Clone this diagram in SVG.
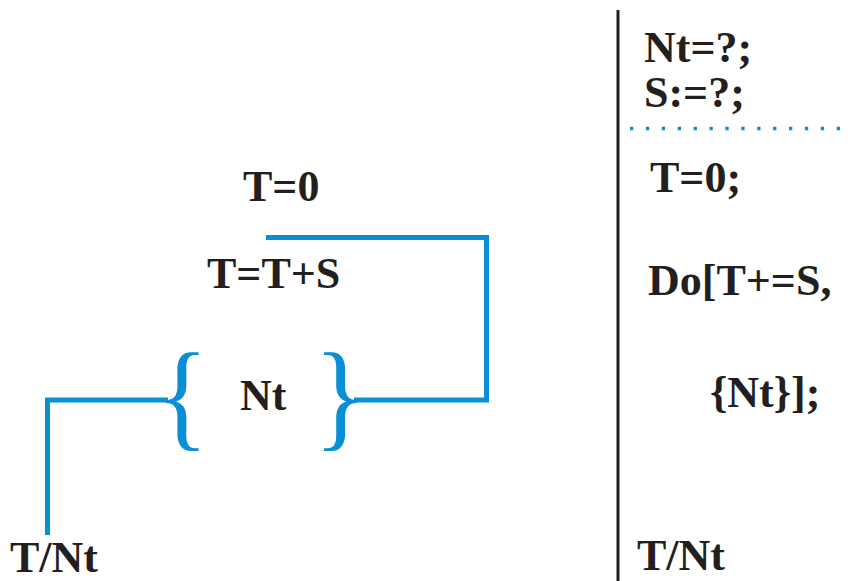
<svg xmlns="http://www.w3.org/2000/svg" width="853" height="581" viewBox="0 0 853 581">
<style>
.t{font-family:"Liberation Serif","Times New Roman",serif;font-weight:bold;font-size:44px;fill:#231f20}
.br{font-family:"Liberation Serif","Times New Roman",serif;font-size:119px;fill:#0a8fd6}
.c{fill:none;stroke:#0a8fd6;stroke-width:5}
</style>
<rect width="853" height="581" fill="#fff"/>
<g id="connectors">
<path class="c" d="M47.5,535 V400 H168"/>
<path class="c" d="M354,400 H486.5 V237.5 H266"/>
</g>
<g id="node-t0"><text class="t" x="243" y="201">T=0</text></g>
<g id="node-tts"><text class="t" x="207" y="288">T=T+S</text></g>
<g id="node-nt">
<text class="br" transform="translate(156,435) scale(0.92,1)">{</text>
<text class="t" x="240" y="410">Nt</text>
<text class="br" transform="translate(314,435) scale(0.92,1)">}</text>
</g>
<g id="node-tnt-left"><text class="t" x="10" y="572">T/Nt</text></g>
<g id="code">
<line x1="618" y1="10" x2="618" y2="581" stroke="#231f20" stroke-width="3"/>
<text class="t" x="644" y="62">Nt=?;</text>
<text class="t" x="644" y="107">S:=?;</text>
<line x1="630" y1="128.5" x2="841" y2="128.5" stroke="#0a8fd6" stroke-width="3.3" stroke-dasharray="3.3,12.6"/>
<text class="t" x="650" y="192">T=0;</text>
<text class="t" x="648" y="295">Do[T+=S,</text>
<text class="t" x="710" y="407">{Nt}];</text>
<text class="t" x="637" y="570">T/Nt</text>
</g>
</svg>
